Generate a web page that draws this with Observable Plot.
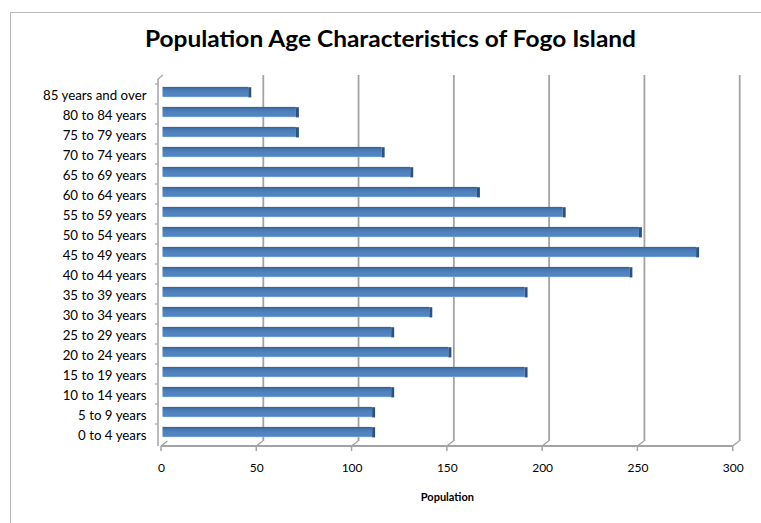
<!DOCTYPE html>
<html>
<head>
<meta charset="utf-8">
<script src="https://cdn.jsdelivr.net/npm/d3@7"></script>
<script src="https://cdn.jsdelivr.net/npm/@observablehq/plot@0.6"></script>
<style>
  html, body { margin: 0; padding: 0; background: #fff; overflow: hidden; }
  #wrap { position: relative; width: 761px; height: 523px; overflow: hidden; background: #fff; }
  #border { position: absolute; left: 10px; top: 12px; width: 900px; height: 700px; border: 1.5px solid #b9b9b9; box-sizing: border-box; pointer-events: none; }
  #chart { position: absolute; left: 0; top: 0; }
</style>
</head>
<body>
<div id="wrap"><div id="border"></div><div id="chart"></div></div>
<script>
const titleText = "Population Age Characteristics of Fogo Island";
const xLabel = "Population";
const ages = ["0 to 4 years","5 to 9 years","10 to 14 years","15 to 19 years","20 to 24 years","25 to 29 years","30 to 34 years","35 to 39 years","40 to 44 years","45 to 49 years","50 to 54 years","55 to 59 years","60 to 64 years","65 to 69 years","70 to 74 years","75 to 79 years","80 to 84 years","85 years and over"];
const population = [110,110,120,190,150,120,140,190,245,280,250,210,165,130,115,70,70,45];
const xTicks = [0,50,100,150,200,250,300];

const data = ages.map((age, i) => ({age, population: population[i]}));
const gridColor = "#a3a3a3";
const barInset = 4.9;

const plot = Plot.plot({
  width: 761,
  height: 523,
  marginLeft: 161,
  marginRight: 28.3,
  marginTop: 79.35,
  marginBottom: 78.35,
  style: {fontFamily: "Lato, 'Open Sans', sans-serif", fontSize: "12px", color: "black", background: "transparent"},
  x: {domain: [0, 300], label: null},
  y: {domain: ages.slice().reverse(), padding: 0, label: null},
  marks: [
    Plot.ruleX(xTicks.slice(1), {dx: 6.5, insetTop: -4.4, insetBottom: 3.6, stroke: gridColor, strokeWidth: 1.8}),
    Plot.barX(data, {x: "population", y: "age", fill: "url(#barGrad)", insetTop: barInset, insetBottom: barInset, dx: 1.5}),
    Plot.tickX(data, {x: "population", y: "age", stroke: "#2c5282", strokeWidth: 3, dx: 2.5, insetTop: barInset + 0.3, insetBottom: barInset - 0.3}),
    Plot.axisX({ticks: xTicks, tickSize: 0, tickPadding: 18, fontSize: 12, color: "black", label: null}),
    Plot.axisY({tickSize: 0, tickPadding: 15, fontSize: 13.3, dy: 3, color: "black", label: null}),
    Plot.text([xLabel], {frameAnchor: "bottom", dy: 56, fontWeight: "bold", fontSize: 11, fill: "black"})
  ]
});

document.getElementById("chart").appendChild(plot);

// gradient definition for bars
plot.insertAdjacentHTML("afterbegin",
  `<defs><linearGradient id="barGrad" x1="0" y1="0" x2="0" y2="1">
     <stop offset="0" stop-color="#355d8e"/>
     <stop offset="0.22" stop-color="#4576b1"/>
     <stop offset="0.5" stop-color="#4f81bd"/>
     <stop offset="0.85" stop-color="#5286c3"/>
     <stop offset="1" stop-color="#7ea5d6"/>
   </linearGradient></defs>`);

// 3-D chart-wall decorations placed with the plot's own scales
const sx = plot.scale("x"), sy = plot.scale("y");
const xf = sx.apply ? (v => sx.apply(v)) : d3.scaleLinear(sx.domain, sx.range);
const svg = d3.select(plot);
const deco = svg.append("g").attr("stroke", gridColor).attr("fill", "none");
const yFront = 446, yBack = 441;
const x0 = xf(0), x300 = xf(300);
deco.append("line").attr("x1", x0).attr("x2", x300).attr("y1", yFront).attr("y2", yFront).attr("stroke-width", 2);
for (const t of xTicks) {
  const x = xf(t);
  deco.append("line").attr("x1", x).attr("x2", x).attr("y1", yFront).attr("y2", yFront + 5).attr("stroke-width", 1.5);
  deco.append("line").attr("x1", x).attr("x2", x + 6.5).attr("y1", yFront).attr("y2", yBack).attr("stroke-width", 1.5);
}
const wallX = x0 - 3;
deco.append("line").attr("x1", wallX).attr("x2", wallX).attr("y1", 79).attr("y2", yFront).attr("stroke-width", 1.5);
deco.append("line").attr("x1", wallX).attr("x2", wallX + 5).attr("y1", 79).attr("y2", 75).attr("stroke-width", 1.2);
for (const a of ages) {
  const yb = (sy.apply ? sy.apply(a) : 0) + 2;
  deco.append("line").attr("x1", wallX - 3).attr("x2", wallX).attr("y1", yb).attr("y2", yb).attr("stroke-width", 1.2);
}

// title
svg.append("text")
  .attr("x", 390.5).attr("y", 47)
  .attr("text-anchor", "middle")
  .attr("font-family", "Lato, 'Open Sans', sans-serif")
  .attr("font-weight", "bold")
  .attr("font-size", 23)
  .attr("fill", "black")
  .attr("textLength", 491)
  .attr("lengthAdjust", "spacingAndGlyphs")
  .text(titleText);
</script>
</body>
</html>
